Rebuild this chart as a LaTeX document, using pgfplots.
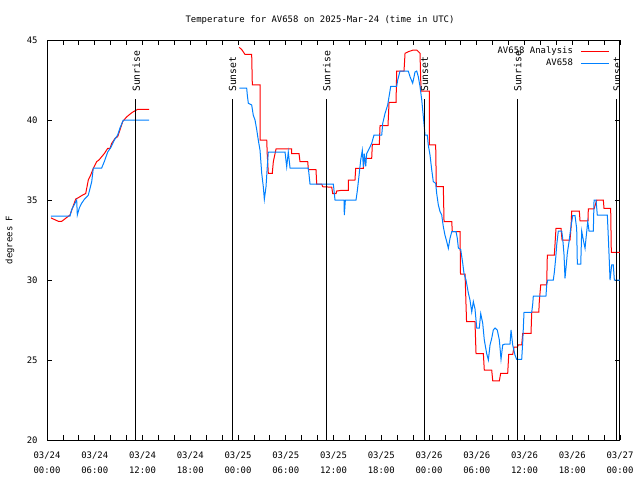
\documentclass[border=0pt]{standalone}
\usepackage{pgfplots}
\pgfplotsset{compat=1.18}
\usepackage{fontspec}
\newfontfamily\mono{DejaVu Sans Mono}
\newcommand\tfont{\mono\fontsize{6.7}{11.25}\selectfont}
\newcommand\sfont{\mono\fontsize{7.3}{9}\selectfont}
\definecolor{gpred}{RGB}{255,0,0}
\definecolor{gpblue}{RGB}{0,128,255}
\begin{document}
\begin{tikzpicture}
\useasboundingbox (0,0) rectangle (480pt,360pt);
\node[font=\tfont] at (240pt,345pt) {Temperature for AV658 on 2025-Mar-24 (time in UTC)};
\begin{axis}[
  at={(35.25pt,30pt)}, anchor=south west,
  scale only axis, width=429.75pt, height=300pt,
  xmin=0, xmax=72, ymin=20, ymax=45,
  axis line style={line width=0.75pt},
  tick align=inside,
  major tick length=3.5pt, minor tick length=3.5pt,
  every tick/.style={black, line width=0.6pt},
  xtick={0,6,...,72},
  minor xtick={2,4,8,10,14,16,20,22,26,28,32,34,38,40,44,46,50,52,56,58,62,64,68,70},
  xticklabels={{03/24\\00:00},{03/24\\06:00},{03/24\\12:00},{03/24\\18:00},{03/25\\00:00},{03/25\\06:00},{03/25\\12:00},{03/25\\18:00},{03/26\\00:00},{03/26\\06:00},{03/26\\12:00},{03/26\\18:00},{03/27\\00:00}},
  xticklabel style={font=\tfont, align=center, yshift=-5.5pt},
  ytick={20,25,...,45},
  yticklabel style={font=\tfont, xshift=-3.5pt},
  /pgf/number format/assume math mode=true,
  ylabel={degrees F},
  ylabel style={font=\tfont, at={(axis description cs:-0.0645,0.5)}, anchor=center},
  unbounded coords=jump,
  legend cell align=right,
  legend plot pos=right,
  legend style={at={(rel axis cs:0.983,0.99)}, anchor=north east, draw=none, fill=none,
    font=\tfont, inner sep=0pt, row sep=-1.5pt,
    /tikz/every odd column/.append style={column sep=4pt}},
  legend image code/.code={\draw[#1, line width=0.8pt] (0pt,0pt) -- (21pt,0pt);},
]
\addplot[gpred, line width=0.75pt] coordinates {
(0.50,33.88)(1.42,33.67)(1.85,33.67)(2.89,34.06)(3.61,35.06)(3.93,35.14)(4.44,35.3)(4.86,35.4)(4.99,35.73)(5.19,36.25)(5.49,36.56)(5.82,36.98)(6.25,37.4)(6.53,37.5)(7.20,37.9)(7.63,38.23)(7.92,38.23)(8.13,38.54)(8.55,38.85)(8.88,38.96)(9.17,39.375)(9.51,39.9)(10.02,40.2)(10.72,40.48)(11.40,40.67)(12.82,40.67)
(18,nan)
(24.16,44.54)(24.47,44.4)(24.88,44.1)(25.72,44.1)(25.80,42.2)(26.77,42.2)(26.77,38.75)(27.61,38.75)(27.68,37.8)(27.81,36.67)(28.31,36.67)(28.44,37.4)(28.78,38.19)(30.75,38.19)(30.75,37.9)(31.67,37.9)(31.79,37.4)(32.76,37.4)(32.84,36.9)(33.80,36.9)(33.89,36.0)(34.52,36.0)(34.64,35.83)(35.78,35.8)(35.90,35.4)(36.32,35.4)(36.40,35.56)(36.94,35.6)(37.86,35.6)(37.86,36.25)(38.70,36.25)(38.79,36.98)(39.75,36.98)(39.87,37.6)(40.80,37.6)(40.88,38.48)(41.76,38.48)(41.85,39.65)(42.85,39.65)(42.98,41.1)(43.86,41.1)(43.94,43.06)(44.86,43.06)(44.99,44.17)(45.40,44.27)(46.03,44.375)(46.46,44.375)(46.87,44.17)(47.00,41.8)(48.04,41.8)(48.04,38.44)(48.84,38.44)(48.92,35.83)(49.80,35.83)(49.89,33.65)(50.86,33.65)(50.93,33.02)(51.90,33.02)(51.96,30.375)(52.53,30.375)(52.72,27.4)(53.78,27.4)(53.91,25.4)(54.83,25.4)(54.95,24.375)(55.88,24.375)(56.01,23.7)(56.84,23.7)(57.01,24.17)(57.89,24.17)(58.02,25.35)(58.52,25.35)(58.68,25.8)(59.10,25.8)(59.22,25.94)(59.65,25.94)(59.78,26.67)(60.82,26.67)(60.91,28.0)(61.80,28.0)(61.86,28.65)(62.04,29.69)(62.79,29.69)(62.87,31.56)(63.75,31.56)(63.96,33.23)(64.59,33.23)(64.72,32.5)(65.72,32.5)(65.85,33.3)(65.93,34.31)(66.89,34.31)(66.98,33.69)(67.98,33.69)(68.02,34.44)(68.74,34.44)(69.08,35)(69.91,35)(69.99,34.48)(70.83,34.48)(70.91,31.73)(72.0,31.73)
};
\addlegendentry{AV658 Analysis}
\addplot[gpblue, line width=0.75pt] coordinates {
(0.50,34.0)(2.89,34.0)(3.10,34.4)(3.52,34.8)(3.73,35.0)(3.81,34.06)(4.06,34.5)(4.36,34.8)(4.69,35.04)(5.19,35.3)(5.62,36.15)(5.82,37.0)(6.87,37.0)(7.20,37.4)(7.63,38.0)(8.04,38.3)(8.46,38.75)(8.88,39.06)(9.17,39.5)(9.59,40.0)(12.82,40.0)
(18,nan)
(24.16,42.0)(25.09,42.0)(25.17,41.56)(25.30,41.04)(25.72,40.94)(25.92,40.3)(26.14,40.0)(26.35,39.4)(26.55,38.75)(26.77,38.1)(26.98,36.67)(27.18,35.83)(27.31,35.04)(27.52,35.83)(27.68,37.08)(27.81,38.0)(29.91,38.0)(30.12,37.08)(30.32,38.0)(30.54,37.0)(32.84,37.0)(33.05,36.0)(35.98,36.0)(36.19,35.0)(37.32,35.0)(37.36,34.06)(37.49,35.0)(38.83,35.0)(39.00,35.6)(39.24,36.67)(39.42,37.5)(39.62,38.1)(39.75,37.08)(39.87,37.9)(40.05,37.1)(40.17,37.9)(40.38,38.1)(40.80,38.54)(41.09,39.06)(42.06,39.06)(42.19,39.8)(42.47,40.4)(42.81,40.94)(43.19,42.1)(43.94,42.1)(44.07,42.5)(44.36,43.06)(45.40,43.06)(45.62,42.7)(45.95,42.3)(46.12,42.7)(46.24,43.0)(46.46,43.06)(46.66,42.7)(46.87,42.1)(47.09,41.25)(47.29,40.2)(47.50,39.06)(47.79,39.06)(47.91,38.44)(48.13,37.8)(48.34,36.9)(48.54,36.15)(48.84,36.04)(48.97,35.4)(49.17,34.7)(49.39,34.27)(49.60,34.06)(49.80,33.33)(50.01,32.8)(50.23,32.4)(50.43,31.98)(50.64,32.6)(50.86,33.02)(51.40,33.02)(51.56,32.6)(51.69,32.0)(51.99,31.9)(52.24,31.04)(52.40,30.4)(52.65,30.0)(52.94,29.2)(53.15,28.75)(53.37,28.0)(53.57,28.65)(53.78,28.2)(54.00,27.0)(54.32,27.0)(54.50,27.9)(54.75,27.3)(54.95,26.25)(55.25,25.4)(55.46,25.0)(55.67,25.94)(55.88,26.35)(56.08,26.875)(56.30,27.0)(56.58,26.875)(56.84,26.25)(57.05,25.04)(57.26,25.94)(57.55,26.0)(58.18,26.0)(58.31,26.875)(58.52,25.94)(58.81,25.3)(59.02,25.04)(59.65,25.04)(59.78,26.15)(59.94,27.98)(60.91,27.98)(61.03,28.48)(61.11,29.0)(62.70,29.0)(62.79,29.7)(62.92,30.0)(63.62,30.0)(63.75,30.48)(63.92,31.35)(64.05,32.2)(64.25,33.06)(64.68,33.06)(64.80,32.6)(64.97,31.56)(65.09,30.1)(65.22,30.77)(65.38,31.67)(65.60,32.4)(65.81,33.23)(66.06,34.02)(66.35,34.02)(66.56,33.2)(66.64,31.0)(67.07,31.0)(67.19,33.06)(67.39,32.5)(67.61,31.98)(67.73,32.6)(67.95,33.65)(68.11,33.06)(68.65,33.06)(68.74,35.0)(68.99,35.0)(69.15,34.06)(70.41,34.06)(70.54,32.6)(70.66,31.15)(70.75,30.0)(70.96,30.94)(71.16,30.94)(71.29,30.0)(72.0,30.0)
};
\addlegendentry{AV658}
\addplot[black, line width=0.75pt, forget plot] coordinates {
(11.15,20)(11.15,41.3)(11.2,nan)
(23.28,20)(23.28,41.3)(23.3,nan)
(35.10,20)(35.10,41.3)(35.2,nan)
(47.41,20)(47.41,41.3)(47.5,nan)
(59.10,20)(59.10,41.3)(59.2,nan)
(71.59,20)(71.59,41.3)
};
\node[font=\sfont, rotate=90, anchor=west, inner sep=0pt] at (axis cs:11.2,41.75) {Sunrise};
\node[font=\sfont, rotate=90, anchor=west, inner sep=0pt] at (axis cs:23.33,41.75) {Sunset};
\node[font=\sfont, rotate=90, anchor=west, inner sep=0pt] at (axis cs:35.15,41.75) {Sunrise};
\node[font=\sfont, rotate=90, anchor=west, inner sep=0pt] at (axis cs:47.46,41.75) {Sunset};
\node[font=\sfont, rotate=90, anchor=west, inner sep=0pt] at (axis cs:59.15,41.75) {Sunrise};
\node[font=\sfont, rotate=90, anchor=west, inner sep=0pt] at (axis cs:71.64,41.75) {Sunset};
\end{axis}
\end{tikzpicture}
\end{document}
